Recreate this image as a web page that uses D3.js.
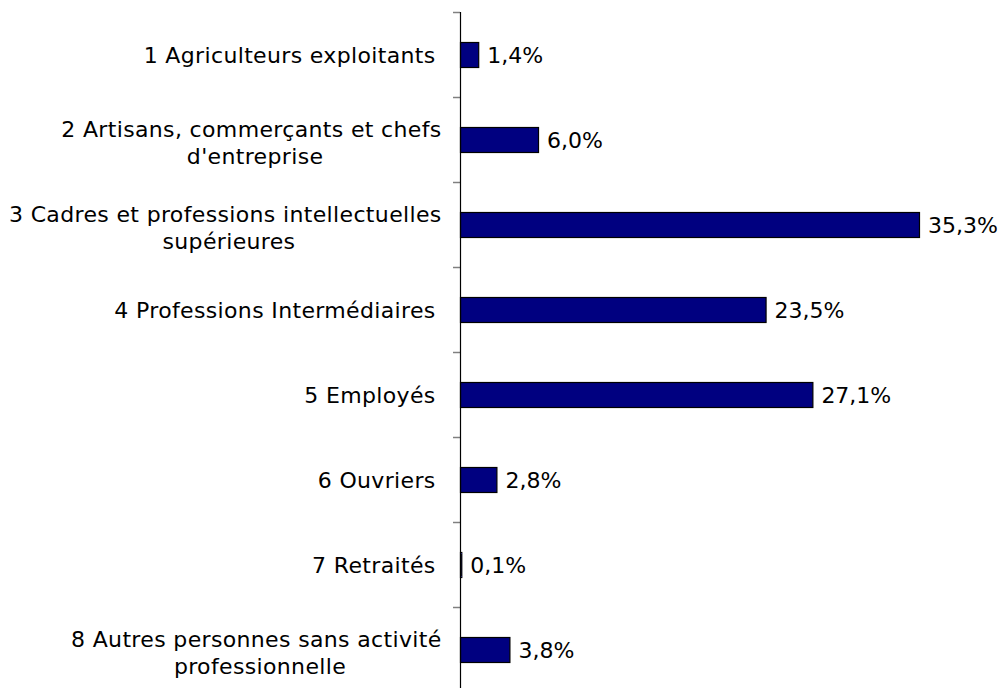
<!DOCTYPE html>
<html>
<head>
<meta charset="utf-8">
<script src="https://cdn.jsdelivr.net/npm/d3@7"></script>
<style>
  body { margin: 0; background: #fff; }
  text { font-family: "DejaVu Sans", Verdana, sans-serif; font-size: 22px; fill: #000; }
  text.cat { letter-spacing: 0.35px; }
</style>
</head>
<body>
<div id="chart"></div>
<script>
// categories (each entry = lines of the label) and values in %
var categories = [
    ["1 Agriculteurs exploitants "],
    ["2 Artisans, commerçants et chefs ", "d'entreprise"],
    ["3 Cadres et professions intellectuelles ", "supérieures"],
    ["4 Professions Intermédiaires "],
    ["5 Employés "],
    ["6 Ouvriers "],
    ["7 Retraités "],
    ["8 Autres personnes sans activité ", "professionnelle"]
];
var values = [1.4, 6.0, 35.3, 23.5, 27.1, 2.8, 0.1, 3.8];
var valueLabels = ["1,4%", "6,0%", "35,3%", "23,5%", "27,1%", "2,8%", "0,1%", "3,8%"];

var width = 1008, height = 688;
var margin = {top: 12, left: 460};

var svg = d3.select("#chart").append("svg")
    .attr("width", width)
    .attr("height", height);

var idx = d3.range(values.length);

var y = d3.scaleBand()
    .domain(idx)
    .range([margin.top, margin.top + 85 * values.length]);

var x = d3.scaleLinear()
    .domain([0, 35.3])
    .range([margin.left, margin.left + 459]);

//tick marks between categories
svg.selectAll("line.tick").data(idx)
    .enter().append("line")
    .attr("class", "tick")
    .attr("x1", margin.left - 7)
    .attr("x2", margin.left)
    .attr("y1", function(d){ return y(d) + 0.5; })
    .attr("y2", function(d){ return y(d) + 0.5; })
    .attr("stroke", "#808080")
    .attr("stroke-width", 1.5);

svg.selectAll("rect.bar").data(values)
    .enter().append("rect")
    .attr("class", "bar")
    .attr("x", x(0) + 0.5)
    .attr("y", function(d, i){ return Math.round(y(i) + y.bandwidth() / 2 - 12.5) + 0.5; })
    .attr("width", function(d){ return x(d) - x(0); })
    .attr("height", 25)
    .attr("fill", "#000080")
    .attr("stroke", "#000")
    .attr("stroke-width", 1.2);

svg.selectAll("text.val").data(values)
    .enter().append("text")
    .attr("class", "val")
    .attr("x", function(d){ return x(d) + 9; })
    .attr("y", function(d, i){ return y(i) + y.bandwidth() / 2 + 8.5; })
    .text(function(d, i){ return valueLabels[i]; });

//category labels, centred as a block ending at the right edge
categories.forEach(function(lines, i){
    var g = svg.append("g");
    var c = y(i) + y.bandwidth() / 2;
    var right = lines.length == 1 ? 443 : 449;
    var texts = lines.map(function(l, j){
        var yy = lines.length == 1 ? c + 8.5 : c + 10.5 + (j - 0.5) * 27;
        return g.append("text")
            .attr("class", "cat")
            .attr("text-anchor", "middle")
            .style("white-space", "pre")
            .attr("y", yy)
            .text(l);
    });
    var maxW = d3.max(texts, function(t){ return t.node().getComputedTextLength(); });
    texts.forEach(function(t){ t.attr("x", right - maxW / 2); });
});

svg.append("line")
    .attr("x1", margin.left + 0.5)
    .attr("x2", margin.left + 0.5)
    .attr("y1", margin.top)
    .attr("y2", height)
    .attr("stroke", "#000")
    .attr("stroke-width", 1.2);
</script>
</body>
</html>
